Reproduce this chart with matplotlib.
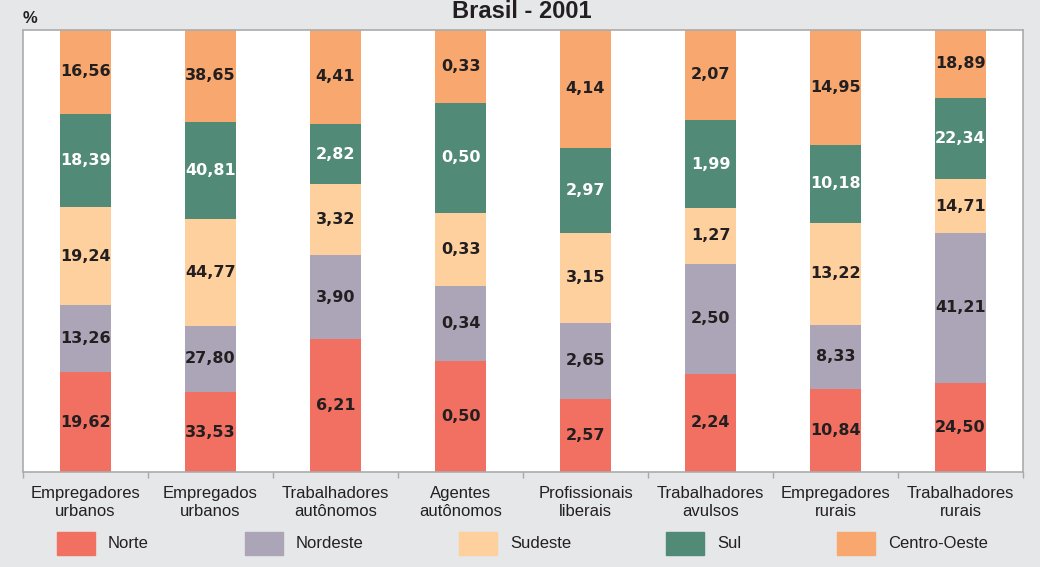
import matplotlib.pyplot as plt
import matplotlib.patches as mpatches
import numpy as np

# Brasil - 2001, participação por região (%)
categorias = ['Empregadores\nurbanos', 'Empregados\nurbanos', 'Trabalhadores\nautônomos',
              'Agentes\nautônomos', 'Profissionais\nliberais', 'Trabalhadores\navulsos',
              'Empregadores\nrurais', 'Trabalhadores\nrurais']
regioes = ['Norte', 'Nordeste', 'Sudeste', 'Sul', 'Centro-Oeste']

norte = [19.62, 33.53, 6.21, 0.50, 2.57, 2.24, 10.84, 24.50]
nordeste = [13.26, 27.80, 3.90, 0.34, 2.65, 2.50, 8.33, 41.21]
sudeste = [19.24, 44.77, 3.32, 0.33, 3.15, 1.27, 13.22, 14.71]
sul = [18.39, 40.81, 2.82, 0.50, 2.97, 1.99, 10.18, 22.34]
centro_oeste = [16.56, 38.65, 4.41, 0.33, 4.14, 2.07, 14.95, 18.89]

cores = ['#F27061', '#ACA5B8', '#FED09E', '#518A76', '#F8A86F']
cor_texto = ['#231F20', '#231F20', '#231F20', 'white', '#231F20']
fundo = '#E6E7E9'
escuro = '#231F20'

series = np.array([norte, nordeste, sudeste, sul, centro_oeste])
pct = series / series.sum(axis=0) * 100

fig = plt.figure(figsize=(10.4, 5.67), dpi=100, facecolor=fundo)
ax = fig.add_axes([23 / 1040, 95 / 567, 1000 / 1040, 442.5 / 567])
ax.set_facecolor('white')

x = np.arange(len(categorias))
base = np.zeros(len(categorias))
for i, reg in enumerate(regioes):
    ax.bar(x, pct[i], 0.41, bottom=base, color=cores[i], label=reg)
    for j in range(len(categorias)):
        ax.text(x[j], base[j] + pct[i][j] / 2, f'{series[i][j]:.2f}'.replace('.', ','),
                ha='center', va='center', fontsize=11.5, fontweight='bold',
                family='DejaVu Sans', color=cor_texto[i])
    base += pct[i]

ax.set_xlim(-0.5, len(categorias) - 0.5)
ax.set_ylim(0, 100)
ax.set_yticks([])
ax.set_xticks(x)
ax.set_xticklabels(categorias, fontsize=12, family='Liberation Sans', color=escuro,
                   linespacing=1.25)
ax.tick_params(axis='x', which='major', length=0, pad=10)
ax.set_xticks(np.arange(-0.5, len(categorias)), minor=True)
ax.tick_params(axis='x', which='minor', length=4, color='#A9A9A9', width=1)
for s in ax.spines.values():
    s.set_color('#ABABAB')
    s.set_linewidth(1.2)

fig.text(522 / 1040, 1 - 18 / 567, 'Brasil - 2001', ha='center', va='baseline',
         fontsize=17, fontweight='bold', family='Liberation Sans', color=escuro)
fig.text(23 / 1040, 1 - 23 / 567, '%', ha='left', va='baseline',
         fontsize=12, fontweight='bold', family='Liberation Sans', color=escuro)

# legenda
leg_x = [57, 245, 459, 666, 837]
for i, reg in enumerate(regioes):
    fig.add_artist(mpatches.Rectangle((leg_x[i] / 1040, 1 - 555 / 567), 38 / 1040, 23 / 567,
                                      transform=fig.transFigure, color=cores[i]))
    fig.text((leg_x[i] + 51) / 1040, 1 - 544 / 567, reg, ha='left', va='center',
             fontsize=12, family='Liberation Sans', color=escuro)

fig.savefig('out.png', dpi=100, facecolor=fundo)
